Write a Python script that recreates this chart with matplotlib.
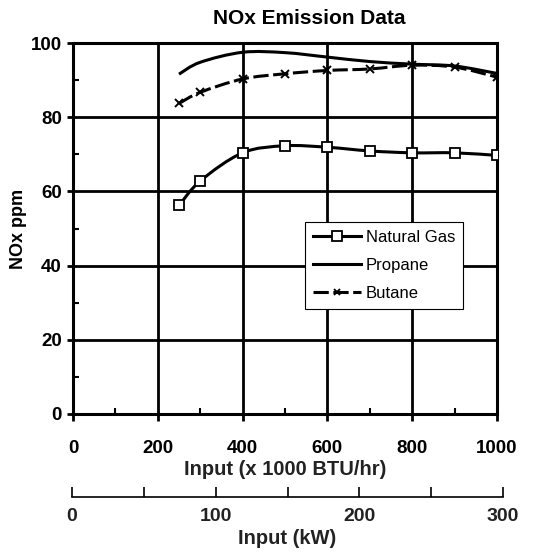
import numpy as np
import matplotlib
matplotlib.use("Agg")
import matplotlib.pyplot as plt
from matplotlib.path import Path
from matplotlib.patches import PathPatch
from matplotlib.lines import Line2D

plt.rcParams['font.family'] = ['Liberation Sans', 'DejaVu Sans']

# Data
input_btu = [250, 300, 400, 500, 600, 700, 800, 900, 1000]
natural_gas = [56.2, 62.8, 70.4, 72.3, 71.9, 70.9, 70.4, 70.4, 69.7]
propane = [91.6, 94.8, 97.5, 97.4, 96.2, 95.0, 94.3, 93.8, 91.8]
butane = [83.7, 86.7, 90.3, 91.7, 92.6, 93.0, 94.0, 93.5, 90.8]

x_ticks = [0, 200, 400, 600, 800, 1000]
y_ticks = [0, 20, 40, 60, 80, 100]
kw_ticks = [0, 100, 200, 300]


def smooth_path(xs, ys):
    # Excel-style smoothed line as cubic Bezier segments
    pts = np.column_stack([xs, ys]).astype(float)
    verts = [pts[0]]
    codes = [Path.MOVETO]
    n = len(pts)
    for i in range(n - 1):
        p0 = pts[i - 1] if i > 0 else pts[i]
        p1 = pts[i]
        p2 = pts[i + 1]
        p3 = pts[i + 2] if i + 2 < n else pts[i + 1]
        c1 = p1 + (p2 - p0) / 6.0
        c2 = p2 - (p3 - p1) / 6.0
        verts += [c1, c2, p2]
        codes += [Path.CURVE4] * 3
    return Path(verts, codes)


fig = plt.figure(figsize=(5.45, 5.59), dpi=100)
ax = fig.add_axes([73 / 545, 1 - 414 / 559, (497 - 73) / 545, (414 - 43) / 559])

lw = 2.2
ax.add_patch(PathPatch(smooth_path(input_btu, natural_gas), fill=False, lw=lw, color='black', zorder=3))
ax.add_patch(PathPatch(smooth_path(input_btu, propane), fill=False, lw=lw, color='black', zorder=3))
ax.add_patch(PathPatch(smooth_path(input_btu, butane), fill=False, lw=lw, color='black',
                       linestyle=(0, (5, 1.5)), zorder=3))
ax.plot(input_btu, natural_gas, ls='none', marker='s', ms=7, mfc='white', mec='black', mew=1.3, zorder=4)
ax.plot(input_btu, butane, ls='none', marker='x', ms=6, mec='black', mew=1.4, zorder=4)

ax.set_xlim(0, 1000)
ax.set_ylim(0, 100)
ax.set_xticks(x_ticks)
ax.set_yticks(y_ticks)
ax.set_xticks(np.arange(100, 1000, 200), minor=True)
ax.set_yticks(np.arange(10, 100, 20), minor=True)
ax.grid(True, which='major', color='black', lw=2)
ax.set_axisbelow(True)
for s in ax.spines.values():
    s.set_linewidth(2.2)
ax.tick_params(axis='x', which='major', direction='out', length=5, width=2, pad=14,
               labelsize=13.5)
ax.tick_params(axis='y', which='major', direction='out', length=4, width=2, pad=4,
               labelsize=13.5)
ax.tick_params(which='minor', direction='in', length=4, width=1.5)
for lab in ax.get_xticklabels() + ax.get_yticklabels():
    lab.set_fontweight('bold')

ax.set_title('NOx Emission Data', fontsize=15, fontweight='bold', pad=14, x=0.557)
ax.set_ylabel('NOx ppm', fontsize=13, fontweight='bold', labelpad=3)
ax.set_xlabel('Input (x 1000 BTU/hr)', fontsize=14.5, fontweight='bold', labelpad=2,
              color='#222222')

handles = [
    Line2D([], [], color='black', lw=lw, marker='s', ms=7, mfc='white', mec='black', mew=1.3),
    Line2D([], [], color='black', lw=lw),
    Line2D([], [], color='black', lw=lw, ls=(0, (5, 1.5)), marker='x', ms=5, mew=1.3),
]
leg = ax.legend(handles, ['Natural Gas', 'Propane', 'Butane'], loc='upper left',
                bbox_to_anchor=((305 - 73) / 424, 1 - (222 - 43) / 371),
                fontsize=12, frameon=True, fancybox=False, framealpha=1,
                edgecolor='black', handlelength=2.9, handletextpad=0.3,
                labelspacing=0.8, borderpad=0.45, borderaxespad=0)
leg.get_frame().set_linewidth(0.8)

# second axis in kW
ax2 = fig.add_axes([72 / 545, 1 - 497 / 559, (503 - 72) / 545, 0.0001])
ax2.set_xlim(0, 300)
ax2.set_ylim(0, 1)
for side in ['top', 'left', 'right']:
    ax2.spines[side].set_visible(False)
ax2.spines['bottom'].set_linewidth(1.2)
ax2.set_yticks([])
ax2.set_xticks(kw_ticks)
ax2.set_xticks([50, 150, 250], minor=True)
ax2.tick_params(axis='x', which='both', direction='in', length=7, width=1.2, pad=8,
                labelsize=14)
for lab in ax2.get_xticklabels():
    lab.set_fontweight('bold')
    lab.set_color('#222222')
ax2.set_xlabel('Input (kW)', fontsize=14.5, fontweight='bold', labelpad=3, color='#222222')

fig.savefig('out.png', dpi=100)
